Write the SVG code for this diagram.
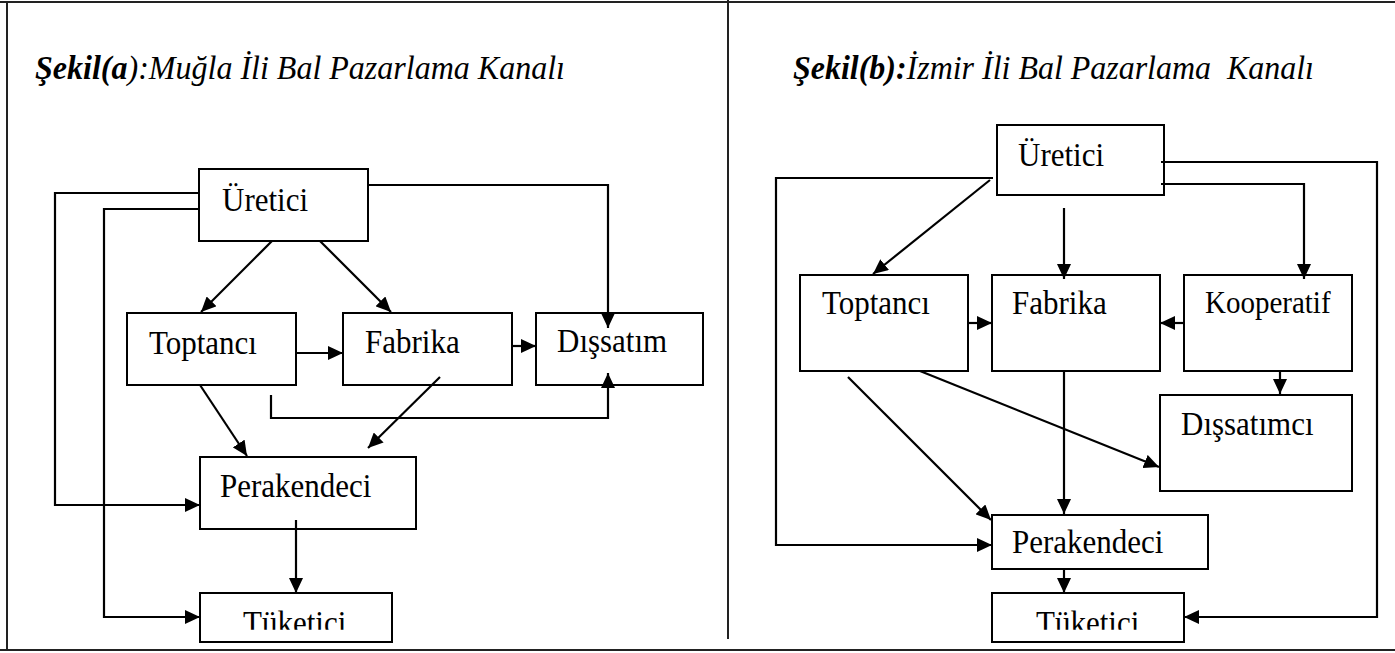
<svg xmlns="http://www.w3.org/2000/svg" width="1395" height="653" viewBox="0 0 1395 653">
<style>
.box{fill:none;stroke:#000;stroke-width:2}
.lbl{font-family:"Liberation Serif","Times New Roman",serif;font-size:31px;fill:#000}
.ttl{font-family:"Liberation Serif","Times New Roman",serif;font-size:31px;font-style:italic;fill:#000}
.b{font-weight:bold}
.frame{stroke:#222;stroke-width:2;fill:none}
#connectors path{fill:none;stroke:#000;stroke-width:2.2;marker-end:url(#arr)}
</style>
<defs>
<marker id="arr" viewBox="0 0 15 14" refX="15" refY="7" markerWidth="15" markerHeight="14" markerUnits="userSpaceOnUse" orient="auto">
<path d="M0,0 L15,7 L0,14 z" fill="#000"/>
</marker>
<clipPath id="clipT"><rect x="-10" y="-40" width="200" height="36"/></clipPath>
</defs>
<rect width="1395" height="653" fill="#fff"/>
<g id="frame">
<line class="frame" x1="0" y1="2" x2="1395" y2="2"/>
<line class="frame" x1="7" y1="2" x2="7" y2="650"/>
<line class="frame" x1="0" y1="650" x2="1395" y2="650"/>
<line class="frame" x1="728" y1="0" x2="728" y2="639"/>
</g>
<g id="title-a"><text class="ttl" transform="translate(35,79) scale(1,1.08)" x="0" y="0" textLength="530" lengthAdjust="spacingAndGlyphs"><tspan class="b">Şekil(a</tspan>):Muğla İli Bal Pazarlama Kanalı</text></g>
<g id="title-b"><text class="ttl" transform="translate(793,79) scale(1,1.08)" x="0" y="0" textLength="521" lengthAdjust="spacingAndGlyphs" xml:space="preserve"><tspan class="b">Şekil(b):</tspan>İzmir İli Bal Pazarlama  Kanalı</text></g>

<g id="connectors">
<path d="M199,193 H55 V505 H200"/>
<path d="M199,209 H104 V617 H200"/>
<path d="M368,185 H608 V328"/>
<path d="M272,241 L201,312"/>
<path d="M320,241 L391,312"/>
<path d="M296,353 H343"/>
<path d="M512,346 H536"/>
<path d="M271,395 V418 H608 V373"/>
<path d="M200,385 L247,456"/>
<path d="M440,377 L368,448"/>
<path d="M296,520 V593"/>

<path d="M1161,162 H1377 V617 H1184"/>
<path d="M1161,184 H1304 V279"/>
<path d="M993,178 H776 V545 H992"/>
<path d="M990,180 L873,274"/>
<path d="M1064,208 V279"/>
<path d="M968,323 H992"/>
<path d="M1184,323 H1160"/>
<path d="M1280,371 V394"/>
<path d="M920,371 L1159,467"/>
<path d="M848,377 L991,520"/>
<path d="M1064,371 V514"/>
<path d="M1064,569 V593"/>
</g>

<g id="a-uretici"><rect class="box" x="199" y="169" width="169" height="72"/><text class="lbl" transform="translate(222,211) scale(1,1.07)">Üretici</text></g>
<g id="a-toptanci"><rect class="box" x="127" y="313" width="169" height="72"/><text class="lbl" transform="translate(149,354) scale(1,1.07)">Toptancı</text></g>
<g id="a-fabrika"><rect class="box" x="343" y="313" width="169" height="72"/><text class="lbl" transform="translate(365,353) scale(1,1.07)">Fabrika</text></g>
<g id="a-dissatim"><rect class="box" x="536" y="313" width="167" height="72"/><text class="lbl" transform="translate(557,352) scale(1,1.07)">Dışsatım</text></g>
<g id="a-perakendeci"><rect class="box" x="200" y="457" width="216" height="72"/><text class="lbl" transform="translate(220,497) scale(1,1.07)">Perakendeci</text></g>
<g id="a-tuketici"><rect class="box" x="200" y="593" width="192" height="49"/><g transform="translate(243,634)"><text class="lbl" clip-path="url(#clipT)" transform="scale(1,1.07)">Tüketici</text></g></g>

<g id="b-uretici"><rect class="box" x="997" y="125" width="167" height="70"/><text class="lbl" transform="translate(1018,166) scale(1,1.07)">Üretici</text></g>
<g id="b-toptanci"><rect class="box" x="800" y="275" width="168" height="96"/><text class="lbl" transform="translate(822,314) scale(1,1.07)">Toptancı</text></g>
<g id="b-fabrika"><rect class="box" x="992" y="275" width="168" height="96"/><text class="lbl" transform="translate(1012,314) scale(1,1.07)">Fabrika</text></g>
<g id="b-kooperatif"><rect class="box" x="1184" y="275" width="168" height="96"/><text class="lbl" transform="translate(1205,313) scale(1,1.07)" style="font-size:29px">Kooperatif</text></g>
<g id="b-dissatimci"><rect class="box" x="1160" y="395" width="192" height="96"/><text class="lbl" transform="translate(1181,435) scale(1,1.07)">Dışsatımcı</text></g>
<g id="b-perakendeci"><rect class="box" x="992" y="515" width="216" height="54"/><text class="lbl" transform="translate(1012,553) scale(1,1.07)">Perakendeci</text></g>
<g id="b-tuketici"><rect class="box" x="992" y="593" width="192" height="49"/><g transform="translate(1036,634)"><text class="lbl" clip-path="url(#clipT)" transform="scale(1,1.07)">Tüketici</text></g></g>
</svg>
